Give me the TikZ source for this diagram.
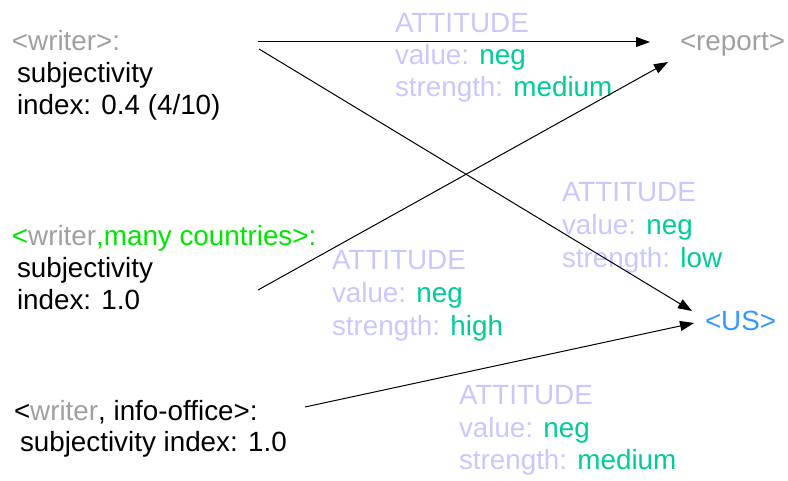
\documentclass[tikz,border=0pt]{standalone}
\usepackage{fontspec}
\setmainfont{Liberation Sans}
\usetikzlibrary{arrows.meta}
\definecolor{wgray}{RGB}{160,160,160}
\definecolor{attlav}{RGB}{200,200,255}
\definecolor{valgreen}{RGB}{0,204,153}
\definecolor{brgreen}{RGB}{0,230,0}
\definecolor{usblue}{RGB}{51,153,255}
\begin{document}
\begin{tikzpicture}[x=1pt,y=-1pt,
  txt/.style={anchor=base west,inner sep=0pt,outer sep=0pt,font=\fontsize{27.8}{32}\selectfont},
  att/.style={txt,text=attlav},
  arr/.style={line width=1pt,-{Triangle[length=14pt,width=10pt]}}]
\useasboundingbox (0,0) rectangle (788,481);
% left blocks
\node[txt,text=wgray] (w1a) at (12,51) {<writer>:};
\node[txt] (w1b) at (17,83) {subjectivity};
\node[txt] (w1c) at (17,115) {index: 0.4 (4/10)};
\node[txt,text=brgreen] (w2a) at (12,246) {<\textcolor{wgray}{writer},many countries>:};
\node[txt] (w2b) at (17,278) {subjectivity};
\node[txt] (w2c) at (17,310) {index: 1.0};
\node[txt] (w3a) at (14,420) {<\textcolor{wgray}{writer}, info-office>:};
\node[txt] (w3b) at (20,451) {subjectivity index: 1.0};
% targets
\node[txt,text=wgray] (rep) at (680,51) {<report>};
\node[txt,text=usblue] (us) at (705,331) {<US>};
% attitude blocks
\node[att] (a1a) at (395,33) {ATTITUDE};
\node[att] (a1b) at (395,65) {value: \textcolor{valgreen}{neg}};
\node[att] (a1c) at (395,97) {strength: \textcolor{valgreen}{medium}};
\node[att] (a2a) at (562,202) {ATTITUDE};
\node[att] (a2b) at (562,235) {value: \textcolor{valgreen}{neg}};
\node[att] (a2c) at (562,268) {strength: \textcolor{valgreen}{low}};
\node[att] (a3a) at (332,270) {ATTITUDE};
\node[att] (a3b) at (332,303) {value: \textcolor{valgreen}{neg}};
\node[att] (a3c) at (332,336) {strength: \textcolor{valgreen}{high}};
\node[att] (a4a) at (459,404) {ATTITUDE};
\node[att] (a4b) at (459,437) {value: \textcolor{valgreen}{neg}};
\node[att] (a4c) at (459,469) {strength: \textcolor{valgreen}{medium}};
% connector ends
\coordinate (s1) at (258,42);
\coordinate (e1) at (650,42);
\coordinate (s2) at (259,49);
\coordinate (e2) at (692,311);
\coordinate (s3) at (258,290);
\coordinate (e3) at (668,62);
\coordinate (s4) at (305,407);
\coordinate (e4) at (694,323);
\draw[arr] (s1) -- (e1);
\draw[arr] (s2) -- (e2);
\draw[arr] (s3) -- (e3);
\draw[arr] (s4) -- (e4);
\end{tikzpicture}
\end{document}
